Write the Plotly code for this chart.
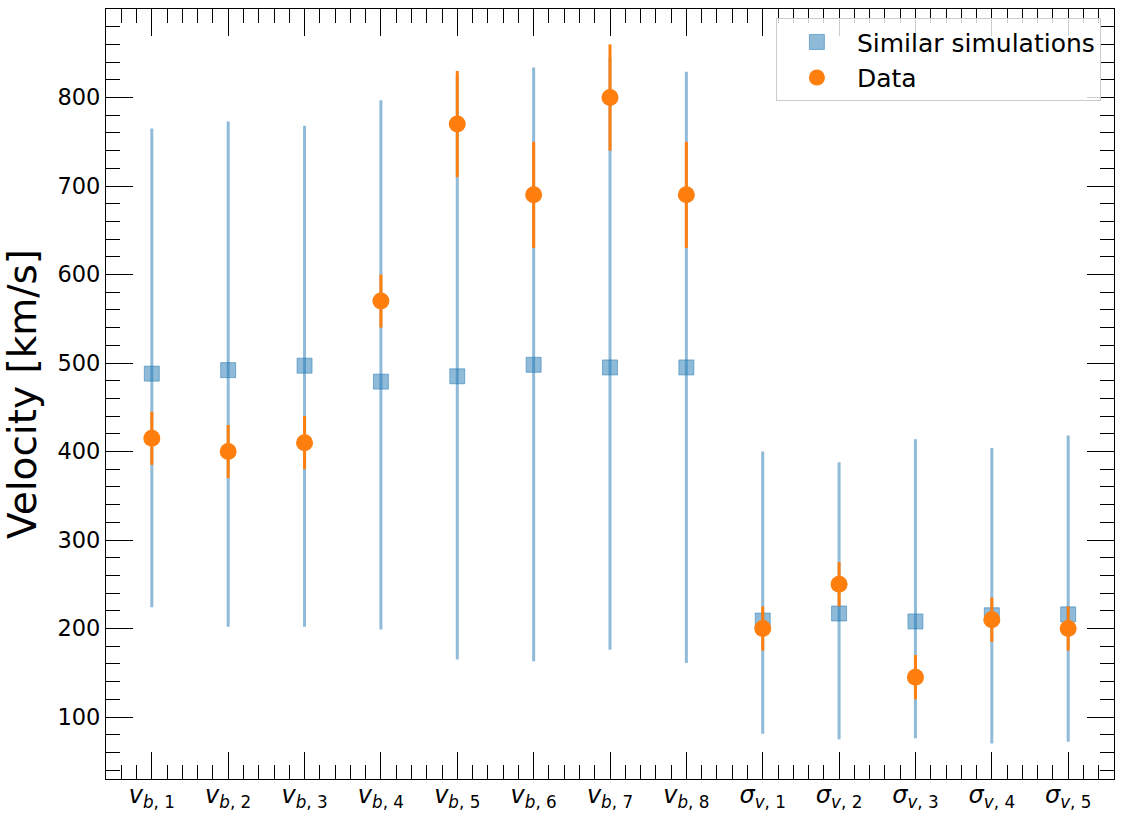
import plotly.graph_objects as go

labels = ["<i>v</i><sub><i>b</i>, 1</sub>", "<i>v</i><sub><i>b</i>, 2</sub>", "<i>v</i><sub><i>b</i>, 3</sub>",
          "<i>v</i><sub><i>b</i>, 4</sub>", "<i>v</i><sub><i>b</i>, 5</sub>", "<i>v</i><sub><i>b</i>, 6</sub>",
          "<i>v</i><sub><i>b</i>, 7</sub>", "<i>v</i><sub><i>b</i>, 8</sub>",
          "<i>σ</i><sub><i>v</i>, 1</sub>", "<i>σ</i><sub><i>v</i>, 2</sub>", "<i>σ</i><sub><i>v</i>, 3</sub>",
          "<i>σ</i><sub><i>v</i>, 4</sub>", "<i>σ</i><sub><i>v</i>, 5</sub>"]
xpos = list(range(len(labels)))

sim_center = [488, 492, 497, 479, 485, 498, 495, 495, 209, 217, 208, 215, 216]
sim_upper = [765, 773, 768, 797, 825, 834, 845, 829, 400, 388, 414, 404, 418]
sim_lower = [224, 202, 202, 199, 165, 163, 176, 161, 81, 75, 76, 70, 72]

data_val = [415, 400, 410, 570, 770, 690, 800, 690, 200, 250, 145, 210, 200]
data_err = [30, 30, 30, 30, 60, 60, 60, 60, 25, 25, 25, 25, 25]

sim_plus = [u - c for u, c in zip(sim_upper, sim_center)]
sim_minus = [c - l for c, l in zip(sim_center, sim_lower)]

blue = "rgba(31,119,180,0.5)"
orange = "#ff7f0e"

fig = go.Figure()
fig.add_trace(go.Scatter(
    x=xpos, y=sim_center, mode="markers", name="Similar simulations",
    marker=dict(symbol="square", size=15, color=blue, line=dict(color=blue, width=1)),
    error_y=dict(type="data", symmetric=False, array=sim_plus, arrayminus=sim_minus,
                 color=blue, thickness=3, width=0),
))
fig.add_trace(go.Scatter(
    x=xpos, y=data_val, mode="markers", name="Data",
    marker=dict(symbol="circle", size=17, color=orange),
    error_y=dict(type="data", array=data_err, color=orange, thickness=3, width=0),
))

axis_common = dict(
    showline=True, linecolor="black", linewidth=1.3, mirror="allticks",
    ticks="inside", ticklen=27, tickwidth=1.3, tickcolor="black",
    showgrid=False, zeroline=False, automargin=False,
)

fig.update_xaxes(
    **axis_common, range=[-0.6, 12.6], tickmode="array", tickvals=xpos, ticktext=labels,
    tickfont=dict(family="DejaVu Sans", size=24, color="black"),
    ticklabelstandoff=-6,
    minor=dict(ticks="inside", ticklen=14, tickwidth=1.3, tickcolor="black", dtick=0.2, tick0=0, showgrid=False),
)
fig.update_yaxes(
    **axis_common, range=[30, 900], tickmode="linear", tick0=0, dtick=100,
    tickfont=dict(family="DejaVu Sans", size=22.5, color="black"),
    minor=dict(ticks="inside", ticklen=14, tickwidth=1.3, tickcolor="black", dtick=20, tick0=0, showgrid=False),
    title=dict(text="Velocity [km/s]", font=dict(family="DejaVu Sans", size=39, color="black"), standoff=10),
)

fig.update_layout(
    width=1123, height=818,
    margin=dict(l=106, r=9, t=9, b=39),
    plot_bgcolor="white", paper_bgcolor="white",
    showlegend=True,
    legend=dict(x=0.987, y=0.988, xanchor="right", yanchor="top",
                bgcolor="rgba(255,255,255,0.8)", bordercolor="#cccccc", borderwidth=1,
                font=dict(family="DejaVu Sans", size=25, color="black"),
                itemwidth=70),
    font=dict(family="DejaVu Sans"),
)

fig.write_html("out.html")
